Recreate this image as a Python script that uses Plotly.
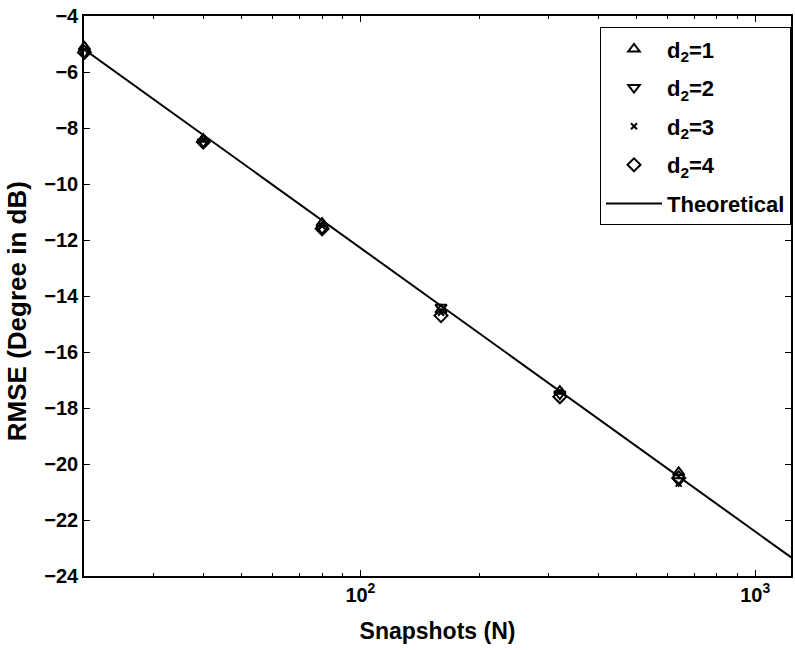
import math
import plotly.graph_objects as go

snapshots = [20, 40, 80, 160, 320, 640, 1280]
rmse_d1 = [-5.1, -8.4, -11.4, -14.5, -17.4, -20.3, -23.5]
rmse_d2 = [-5.3, -8.5, -11.6, -14.4, -17.5, -20.6, -23.6]
rmse_d3 = [-5.2, -8.4, -11.5, -14.6, -17.4, -20.7, -23.5]
rmse_d4 = [-5.3, -8.5, -11.6, -14.7, -17.6, -20.5, -23.6]
rmse_theory = [-5.2, -8.25, -11.3, -14.35, -17.4, -20.45, -23.5]

series_names = ["d<sub>2</sub>=1", "d<sub>2</sub>=2", "d<sub>2</sub>=3", "d<sub>2</sub>=4"]
series_vals = [rmse_d1, rmse_d2, rmse_d3, rmse_d4]
symbols = ["triangle-up-open", "triangle-down-open", "x-thin-open", "diamond-open"]
sizes = [10, 10, 6, 10]

x_tickvals = [100, 1000]
x_ticktext = ["10<sup>2</sup>", "10<sup>3</sup>"]
y_tickvals = list(range(-24, -3, 2))

FONT = "Liberation Sans, Arial, sans-serif"

fig = go.Figure()
for i, (name, vals, sym, sz) in enumerate(zip(series_names, series_vals, symbols, sizes)):
    mk = dict(symbol=sym, size=sz, color="black", line=dict(color="black", width=2))
    # points inside the axis range (not clipped, so the N=20 marks overflow the axis)
    fig.add_trace(go.Scatter(
        x=snapshots, y=vals, mode="markers", name=name,
        legendgroup=f"g{i}", cliponaxis=False, marker=mk,
    ))
    # the last point sits just past the right axis edge: draw it clipped
    fig.add_trace(go.Scatter(
        x=snapshots[-1:], y=vals[-1:], mode="markers", name=name,
        legendgroup=f"g{i}", showlegend=False, cliponaxis=True, marker=mk,
    ))
fig.add_trace(go.Scatter(
    x=snapshots, y=rmse_theory, mode="lines", name="Theoretical",
    legendgroup="g5",
    line=dict(color="black", width=2),
))

minor_vals = [v * m for m in (10, 100, 1000) for v in range(2, 10)]

fig.update_layout(
    width=795, height=650,
    margin=dict(l=84, r=2, t=16, b=74),
    paper_bgcolor="white", plot_bgcolor="white",
    font=dict(family=FONT, color="black", size=20, weight="bold"),
    showlegend=True,
    legend=dict(
        x=1, xanchor="right", y=0.98, yanchor="top",
        bordercolor="black", borderwidth=1, bgcolor="white",
        font=dict(family=FONT, size=22, color="black", weight="bold"),
        itemwidth=56, tracegroupgap=7,
    ),
    xaxis=dict(
        type="log",
        range=[math.log10(19.95), math.log10(1232)],
        tickvals=x_tickvals, ticktext=x_ticktext,
        ticks="inside", ticklen=6, tickwidth=1, tickcolor="black",
        minor=dict(tickvals=minor_vals, ticks="inside", ticklen=3, tickcolor="black"),
        showline=True, linecolor="black", linewidth=1.5, mirror="ticks",
        showgrid=False, zeroline=False,
        tickfont=dict(family=FONT, size=20, color="black", weight="bold"),
        title=dict(text="Snapshots (N)", standoff=18,
                   font=dict(family=FONT, size=23, color="black", weight="bold")),
    ),
    yaxis=dict(
        range=[-24, -4],
        tickvals=y_tickvals,
        ticks="inside", ticklen=6, tickwidth=1, tickcolor="black",
        showline=True, linecolor="black", linewidth=1.5, mirror="ticks",
        showgrid=False, zeroline=False,
        tickfont=dict(family=FONT, size=20, color="black", weight="bold"),
    ),
    annotations=[dict(
        text="RMSE (Degree in dB)", textangle=-90, showarrow=False,
        xref="paper", yref="paper", x=(17 - 84) / 709, y=(576 - 311) / 560,
        xanchor="center", yanchor="middle",
        font=dict(family=FONT, size=26, color="black", weight="bold"),
    )],
)

fig.write_html("out.html")
